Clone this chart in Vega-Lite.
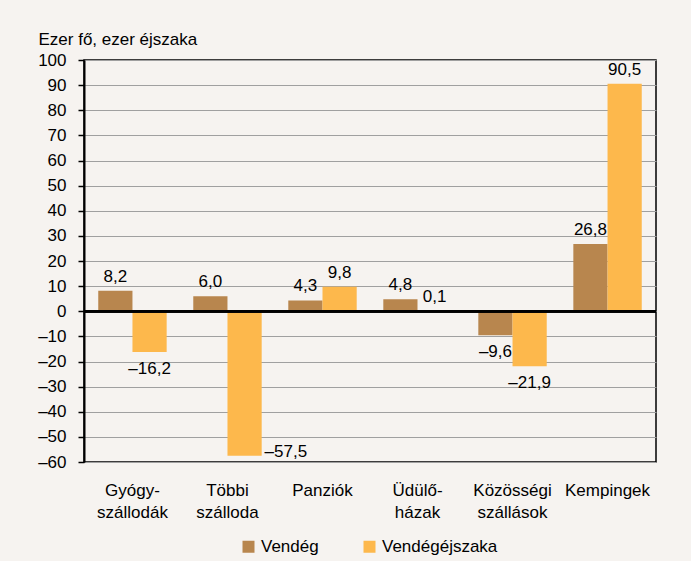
{
  "$schema": "https://vega.github.io/schema/vega-lite/v6.json",
  "width": 572,
  "height": 402,
  "autosize": {"type": "none"},
  "padding": {"left": 84, "top": 60, "right": 35, "bottom": 99},
  "background": "#F6F3F0",
  "config": {
    "locale": {"number": {"decimal": ",", "thousands": " ", "grouping": [3], "currency": ["", ""], "minus": "–"}},
    "font": "Liberation Sans",
    "view": {"stroke": "#000000", "strokeWidth": 1.5, "fill": "#F6F3F0"},
    "text": {"font": "Liberation Sans", "fontSize": 17, "color": "#000000"}
  },
  "data": {
    "values": [
      {"category": "Gyógy-|szállodák", "series": "Vendég", "value": 8.2},
      {"category": "Gyógy-|szállodák", "series": "Vendégéjszaka", "value": -16.2},
      {"category": "Többi|szálloda", "series": "Vendég", "value": 6.0},
      {"category": "Többi|szálloda", "series": "Vendégéjszaka", "value": -57.5},
      {"category": "Panziók", "series": "Vendég", "value": 4.3},
      {"category": "Panziók", "series": "Vendégéjszaka", "value": 9.8},
      {"category": "Üdülő-|házak", "series": "Vendég", "value": 4.8},
      {"category": "Üdülő-|házak", "series": "Vendégéjszaka", "value": 0.1},
      {"category": "Közösségi|szállások", "series": "Vendég", "value": -9.6},
      {"category": "Közösségi|szállások", "series": "Vendégéjszaka", "value": -21.9},
      {"category": "Kempingek", "series": "Vendég", "value": 26.8},
      {"category": "Kempingek", "series": "Vendégéjszaka", "value": 90.5}
    ]
  },
  "encoding": {
    "x": {
      "field": "category", "type": "nominal", "sort": null,
      "scale": {"paddingInner": 0.28, "paddingOuter": 0.15},
      "axis": {
        "title": null, "domain": false, "ticks": false, "labelAngle": 0,
        "labelFontSize": 17, "labelColor": "#000000", "labelPadding": 20,
        "labelLineHeight": 22, "labelBaseline": "top",
        "labelExpr": "split(datum.value, '|')"
      }
    },
    "xOffset": {"field": "series", "type": "nominal", "sort": ["Vendég", "Vendégéjszaka"], "scale": {"paddingInner": 0}},
    "y": {
      "field": "value", "type": "quantitative",
      "scale": {"domain": [-60, 100], "nice": false},
      "axis": {
        "title": "Ezer fő, ezer éjszaka", "titleAngle": 0, "titleAlign": "left",
        "titleBaseline": "alphabetic", "titleX": -46, "titleY": -16,
        "titleFontSize": 17, "titleFontWeight": "normal", "titleColor": "#000000",
        "values": [-60, -50, -40, -30, -20, -10, 0, 10, 20, 30, 40, 50, 60, 70, 80, 90, 100],
        "labelOverlap": false, "format": "d",
        "labelFontSize": 17, "labelColor": "#000000", "labelPadding": 12,
        "domainColor": "#000000", "domainWidth": 2,
        "tickColor": "#000000", "tickSize": 6, "tickWidth": 1.5,
        "gridColor": "#A0A0A0", "gridWidth": 1.2
      }
    }
  },
  "layer": [
    {
      "mark": {"type": "bar"},
      "encoding": {
        "color": {
          "field": "series", "type": "nominal",
          "scale": {"domain": ["Vendég", "Vendégéjszaka"], "range": ["#B8864E", "#FDB84C"]},
          "legend": {
            "orient": "none", "legendX": 156, "legendY": 478, "direction": "horizontal",
            "title": null, "symbolType": "square", "symbolSize": 144, "symbolStrokeWidth": 0,
            "labelFontSize": 17, "labelColor": "#000000", "labelOffset": 4, "columnPadding": 42
          }
        }
      }
    },
    {
      "transform": [{"filter": "datum.value >= 0"}],
      "mark": {"type": "text", "baseline": "alphabetic", "dy": -9},
      "encoding": {"text": {"field": "value", "type": "quantitative", "format": ".1f"}}
    },
    {
      "transform": [{"filter": "datum.value < 0 && datum.value > -50"}],
      "mark": {"type": "text", "baseline": "top", "dy": 9},
      "encoding": {"text": {"field": "value", "type": "quantitative", "format": ".1f"}}
    },
    {
      "transform": [{"filter": "datum.value <= -50"}],
      "mark": {"type": "text", "baseline": "alphabetic", "align": "left", "dx": 20, "dy": 1},
      "encoding": {"text": {"field": "value", "type": "quantitative", "format": ".1f"}}
    },
    {
      "mark": {"type": "rule", "color": "#000000", "strokeWidth": 2},
      "encoding": {
        "y": {"datum": 0, "type": "quantitative"},
        "x": {"value": 0},
        "x2": {"value": 572},
        "xOffset": {"value": 0}
      }
    }
  ]
}
